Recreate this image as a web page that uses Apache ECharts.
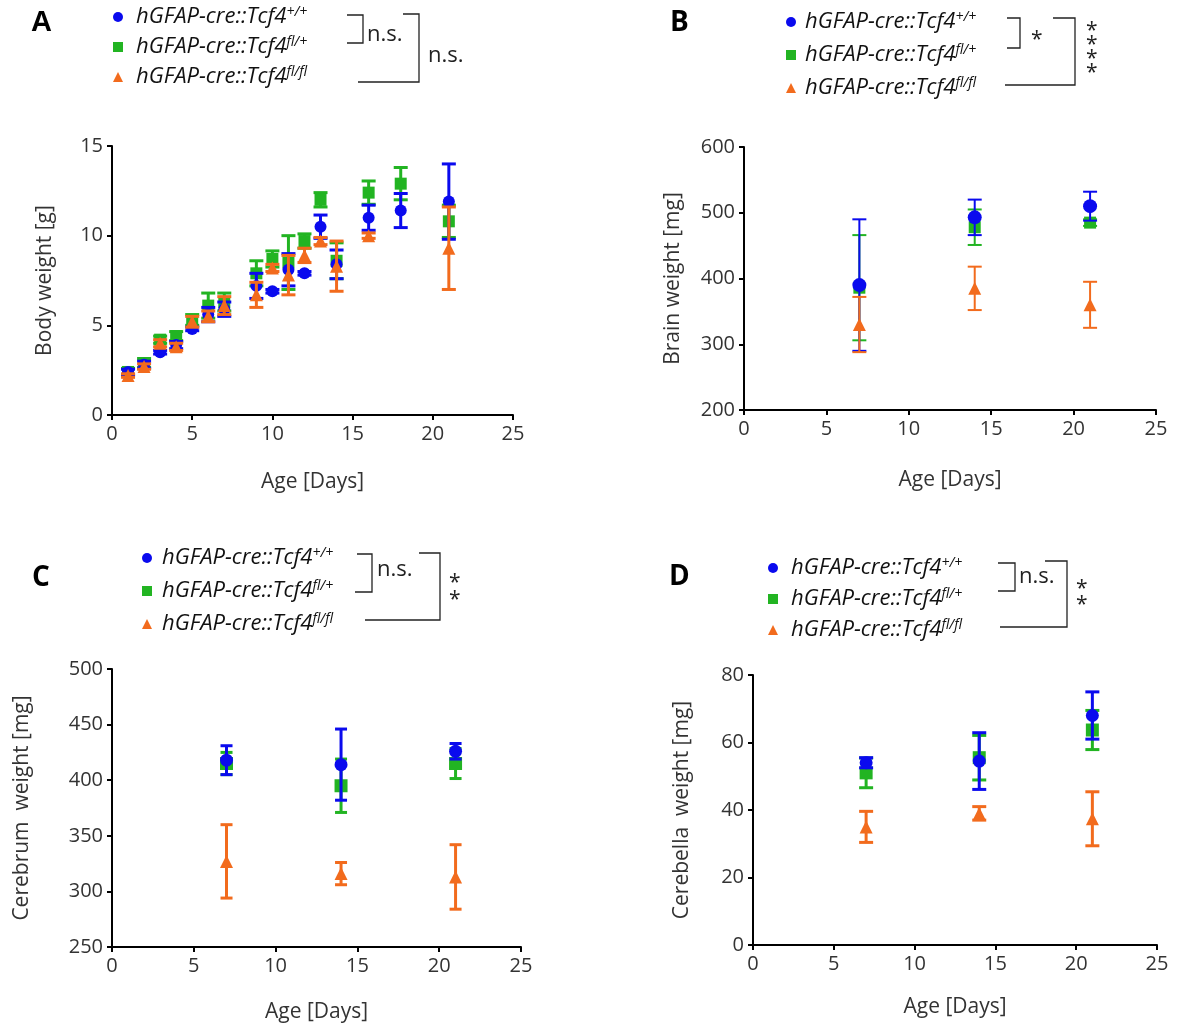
<!DOCTYPE html>
<html><head><meta charset="utf-8">
<script src="https://cdn.jsdelivr.net/npm/echarts@6/dist/echarts.min.js"></script>
<style>html,body{margin:0;padding:0;background:#fff}#c{width:1177px;height:1027px}</style>
</head><body><div id="c"></div>
<script>
// ---------- data ----------
const groupNames = ['hGFAP-cre::Tcf4+/+', 'hGFAP-cre::Tcf4fl/+', 'hGFAP-cre::Tcf4fl/fl'];
const groupSup = ['+/+', 'fl/+', 'fl/fl'];
const groupColors = ['#0a0aee', '#22b422', '#f26b1d'];
const groupSymbols = ['circle', 'rect', 'triangle'];

const xTicks = [0, 5, 10, 15, 20, 25];

// Panel A: body weight [g]
const daysBody = [1, 2, 3, 4, 5, 6, 7, 9, 10, 11, 12, 13, 14, 16, 18, 21];
const bodyWT     = [2.4, 2.8, 3.5, 3.9, 4.8, 5.6, 5.9, 7.2, 6.9, 8.1, 7.9, 10.5, 8.4, 11.0, 11.4, 11.9];
const bodyWTErr  = [0.15, 0.2, 0.1, 0.2, 0.1, 0.4, 0.4, 0.7, 0.1, 0.9, 0.1, 0.65, 0.8, 0.7, 0.95, 2.1];
const bodyHet    = [2.4, 2.9, 4.2, 4.4, 5.3, 6.1, 6.3, 7.9, 8.7, 8.5, 9.7, 12.0, 8.6, 12.4, 12.9, 10.8];
const bodyHetErr = [0.2, 0.25, 0.2, 0.25, 0.3, 0.7, 0.5, 0.7, 0.45, 1.5, 0.4, 0.4, 1.0, 0.65, 0.9, 0.9];
const bodyKO     = [2.2, 2.7, 4.0, 3.8, 5.2, 5.5, 6.1, 6.7, 8.2, 7.8, 8.9, 9.7, 8.3, 10.0, null, 9.3];
const bodyKOErr  = [0.1, 0.15, 0.2, 0.2, 0.3, 0.3, 0.5, 0.7, 0.2, 1.1, 0.4, 0.2, 1.4, 0.15, null, 2.3];

// Panels B-D: organ weights at P7, P14, P21
const daysOrgan = [7, 14, 21];
const brainWT = [390, 493, 510],     brainWTErr = [100, 27, 22];
const brainHet = [386, 478, 485],    brainHetErr = [80, 27, 5];
const brainKO = [330, 385, 360],     brainKOErr = [42, 33, 35];

const cerebrumWT = [418, 414, 426],  cerebrumWTErr = [13, 32, 7];
const cerebrumHet = [415, 395, 415], cerebrumHetErr = [10, 24, 13.5];
const cerebrumKO = [327, 316, 313],  cerebrumKOErr = [33, 10, 29];

const cerebellaWT = [54, 54.5, 68],    cerebellaWTErr = [1.5, 8.4, 7];
const cerebellaHet = [51, 55.5, 63.7], cerebellaHetErr = [4.4, 6.6, 5.8];
const cerebellaKO = [35, 39, 37.4],    cerebellaKOErr = [4.6, 2, 8];

// ---------- chart ----------
const FONT = 'Open Sans';
const chart = echarts.init(document.getElementById('c'), null, {renderer: 'canvas'});

const panels = [
  {days: daysBody, means: [bodyWT, bodyHet, bodyKO], errs: [bodyWTErr, bodyHetErr, bodyKOErr],
   grid: {left: 112, top: 146, width: 401, height: 269}, y: [0, 15, 5], yName: 'Body weight [g]',
   yGap: 56, xGap: 57, sym: [12, 12, 13], cap: 7, lw: 3},
  {days: daysOrgan, means: [brainWT, brainHet, brainKO], errs: [brainWTErr, brainHetErr, brainKOErr],
   grid: {left: 744, top: 147, width: 412, height: 263}, y: [200, 600, 100], yName: 'Brain weight [mg]',
   yGap: 60, xGap: 60, sym: [14, 12, 13], cap: 7, lw: 2},
  {days: daysOrgan, means: [cerebrumWT, cerebrumHet, cerebrumKO], errs: [cerebrumWTErr, cerebrumHetErr, cerebrumKOErr],
   grid: {left: 112, top: 669, width: 409, height: 278}, y: [250, 500, 50], yName: 'Cerebrum  weight [mg]',
   yGap: 79, xGap: 55, sym: [13, 13, 13], cap: 6, lw: 3},
  {days: daysOrgan, means: [cerebellaWT, cerebellaHet, cerebellaKO], errs: [cerebellaWTErr, cerebellaHetErr, cerebellaKOErr],
   grid: {left: 753, top: 675, width: 404, height: 270}, y: [0, 80, 20], yName: 'Cerebella  weight [mg]',
   yGap: 60, xGap: 52, sym: [13, 13, 13], cap: 7, lw: 3}
];

function errRender(halfCap, lw) {
  return function (params, api) {
    const x = api.value(0), m = api.value(1), e = api.value(2);
    const top = api.coord([x, m + e]), bot = api.coord([x, m - e]);
    const style = {stroke: api.visual('color'), lineWidth: lw};
    return {type: 'group', children: [
      {type: 'line', shape: {x1: top[0], y1: top[1], x2: bot[0], y2: bot[1]}, style: style},
      {type: 'line', shape: {x1: top[0] - halfCap, y1: top[1], x2: top[0] + halfCap, y2: top[1]}, style: style},
      {type: 'line', shape: {x1: bot[0] - halfCap, y1: bot[1], x2: bot[0] + halfCap, y2: bot[1]}, style: style}
    ]};
  };
}

const axisCommon = {
  axisLine: {show: true, onZero: false, lineStyle: {color: '#000', width: 2}},
  axisTick: {show: true, inside: false, length: 5, lineStyle: {color: '#000', width: 2}},
  splitLine: {show: false},
  axisLabel: {color: '#333', fontSize: 20, fontFamily: FONT, margin: 9},
  nameTextStyle: {color: '#333', fontSize: 21, fontFamily: FONT},
  nameLocation: 'middle'
};

const grids = [], xAxes = [], yAxes = [], series = [];
const drawOrder = [1, 0, 2];
panels.forEach((p, pi) => {
  grids.push(Object.assign({outerBoundsMode: 'none', containLabel: false}, p.grid));
  xAxes.push(Object.assign({}, axisCommon, {type: 'value', gridIndex: pi, min: xTicks[0], max: xTicks[xTicks.length - 1],
    interval: xTicks[1] - xTicks[0], name: 'Age [Days]', nameGap: p.xGap}));
  yAxes.push(Object.assign({}, axisCommon, {type: 'value', gridIndex: pi, min: p.y[0], max: p.y[1], interval: p.y[2],
    name: p.yName, nameGap: p.yGap, nameRotate: 90}));
  drawOrder.forEach((g, k) => {
    const pts = [];
    p.days.forEach((d, i) => { if (p.means[g][i] != null) pts.push([d, p.means[g][i], p.errs[g][i]]); });
    series.push({
      type: 'custom', name: 'err' + pi + '-' + g, xAxisIndex: pi, yAxisIndex: pi,
      renderItem: errRender(p.cap, p.lw), data: pts, encode: {x: 0, y: 1},
      itemStyle: {color: groupColors[g]}, z: 2 + k * 2, silent: true
    });
    series.push({
      type: 'scatter', name: groupNames[g], xAxisIndex: pi, yAxisIndex: pi,
      data: pts.map(v => [v[0], v[1]]), symbol: groupSymbols[g], symbolSize: p.sym[g],
      itemStyle: {color: groupColors[g], opacity: 1}, z: 3 + k * 2, silent: true
    });
  });
});

// legends (one per panel)
const legendPos = [
  {left: 113, top: 5, gap: 7, pad: 8},
  {left: 786, top: 10, gap: 10, pad: 4},
  {left: 142, top: 546, gap: 10, pad: 5},
  {left: 768, top: 556, gap: 8, pad: 8}
];
const legends = legendPos.map(lp => ({
  orient: 'vertical', left: lp.left, top: lp.top, padding: 0, itemGap: lp.gap,
  itemWidth: 10, itemHeight: 10, selectedMode: false,
  data: groupNames.map((n, i) => ({name: n, icon: groupSymbols[i]})),
  formatter: function (name) {
    const i = groupNames.indexOf(name);
    return '{m|hGFAP-cre::Tcf4}{s|' + groupSup[i] + '}';
  },
  textStyle: {
    rich: {
      m: {fontFamily: FONT, fontStyle: 'italic', fontSize: 22, color: '#111', lineHeight: 24, padding: [0, 0, 0, lp.pad]},
      s: {fontFamily: FONT, fontStyle: 'italic', fontSize: 14, color: '#111', lineHeight: 14, verticalAlign: 'top'}
    }
  }
}));

// significance brackets and panel letters
const LC = '#222';
function bracket(pts) {
  return {type: 'polyline', shape: {points: pts}, style: {stroke: LC, lineWidth: 1.3, fill: null}, z: 10};
}
function txt(x, y, s, size, opt) {
  return {type: 'text', x: x, y: y, z: 10,
    style: Object.assign({text: s, fontFamily: FONT, fontSize: size, fill: LC, verticalAlign: 'middle'}, opt || {})};
}
const graphics = [
  // panel letters
  txt(31, 23, 'A', 29, {fontWeight: 'bold', fill: '#000', fontFamily: 'Liberation Sans'}),
  txt(670, 23, 'B', 28, {fontWeight: 'bold', fill: '#000'}),
  txt(32, 578, 'C', 28, {fontWeight: 'bold', fill: '#000'}),
  txt(669, 577, 'D', 28, {fontWeight: 'bold', fill: '#000'}),
  // A
  bracket([[347, 15], [363, 15], [363, 43], [347, 43]]),
  txt(367, 35, 'n.s.', 22),
  bracket([[403, 14], [419, 14], [419, 82], [358, 82]]),
  txt(428, 56, 'n.s.', 22),
  // B
  bracket([[1007, 18], [1020, 18], [1020, 48], [1007, 48]]),
  txt(1031, 40, '*', 21),
  bracket([[1053, 18], [1075, 18], [1075, 85], [1005, 85]]),
  txt(1086, 31, '*', 21), txt(1086, 45, '*', 21), txt(1086, 59, '*', 21), txt(1086, 73, '*', 21),
  // C
  bracket([[357, 554], [372, 554], [372, 592], [355, 592]]),
  txt(377, 570, 'n.s.', 22),
  bracket([[419, 553], [440, 553], [440, 620], [365, 620]]),
  txt(449, 583, '*', 21), txt(449, 600, '*', 21),
  // D
  bracket([[998, 563], [1015, 563], [1015, 591], [998, 591]]),
  txt(1019, 577, 'n.s.', 22),
  bracket([[1045, 561], [1067, 561], [1067, 627], [1000, 627]]),
  txt(1076, 589, '*', 21), txt(1076, 605, '*', 21)
];

chart.setOption({
  animation: false,
  backgroundColor: '#fff',
  grid: grids, xAxis: xAxes, yAxis: yAxes, series: series,
  legend: legends,
  graphic: graphics
});
</script></body></html>
